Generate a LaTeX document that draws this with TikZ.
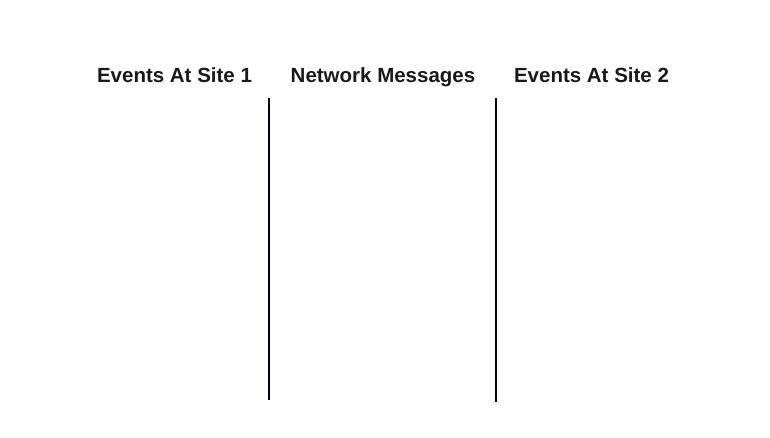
\documentclass[tikz,border=0pt]{standalone}
\usepackage{fontspec}
\setmainfont{Liberation Sans}
\begin{document}
\begin{tikzpicture}[x=1pt,y=-1pt,
  lbl/.style={font=\bfseries\fontsize{20.5}{24}\selectfont, inner sep=0pt, anchor=base, text=black!90},
  axis/.style={line width=2pt, draw=black!90!blue}]
\useasboundingbox (0,0) rectangle (770,438);
\node[lbl] (s1) at (174.5,83) {Events At Site 1};
\node[lbl] (nm) at (383,83) {Network Messages};
\node[lbl] (s2) at (591.5,83) {Events At Site 2};
\coordinate (a1) at (269,98);
\coordinate (b1) at (269,400);
\coordinate (a2) at (496,98);
\coordinate (b2) at (496,402);
\draw[axis] (a1) -- (b1);
\draw[axis] (a2) -- (b2);
\end{tikzpicture}
\end{document}
